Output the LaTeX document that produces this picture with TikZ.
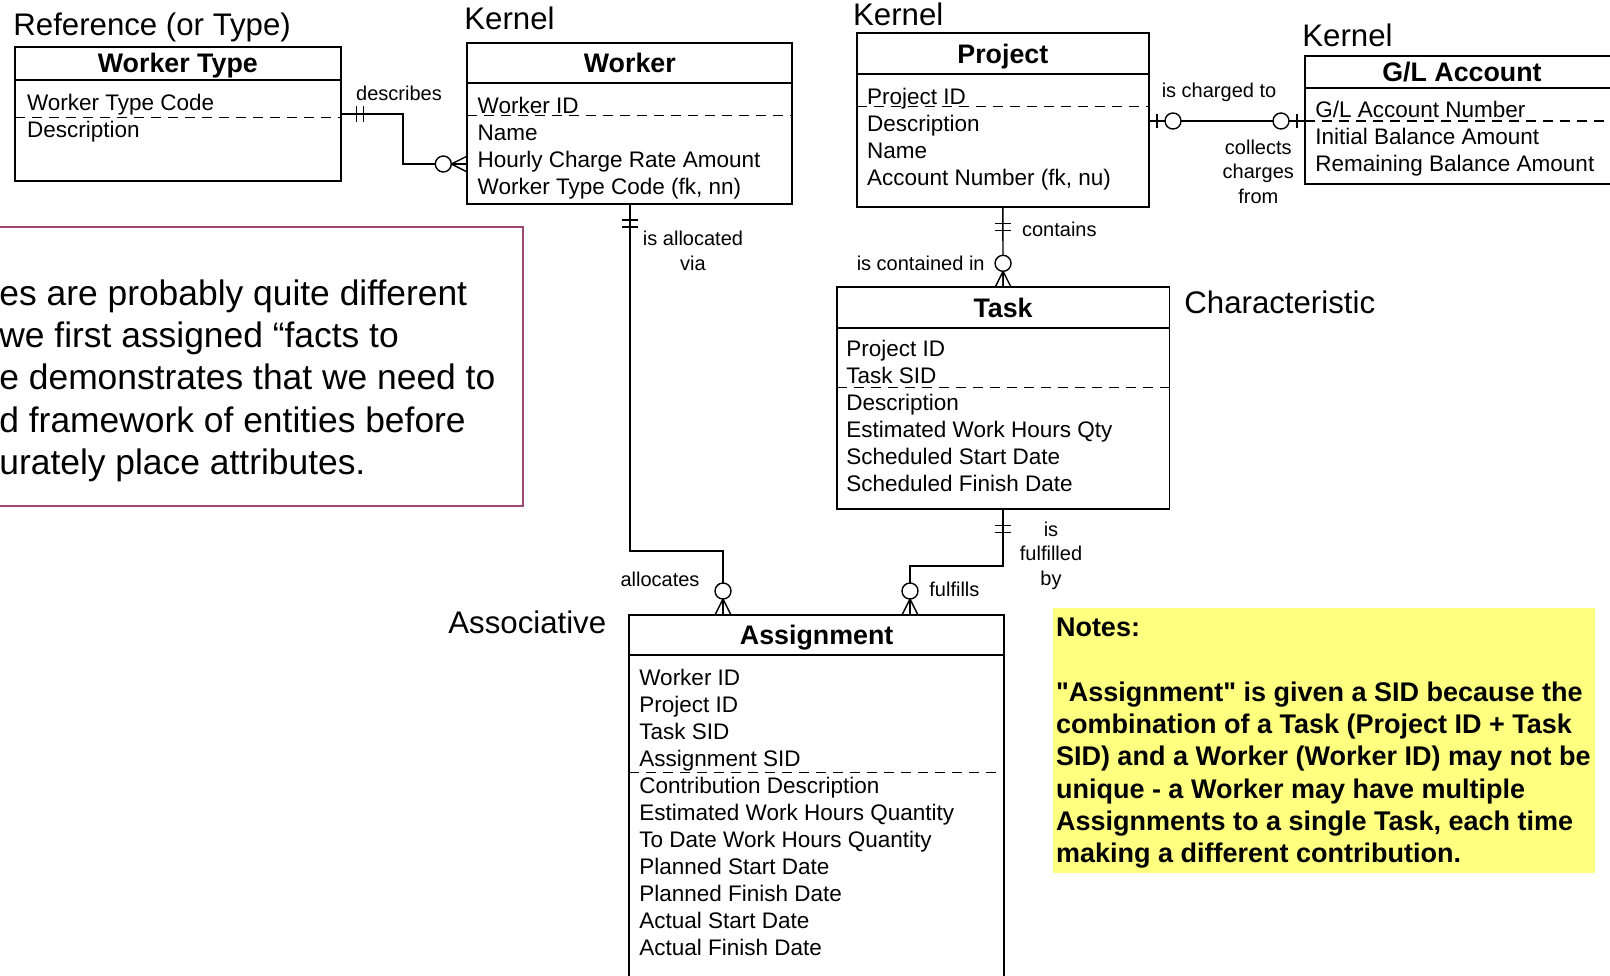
\documentclass[tikz,border=0pt]{standalone}
\usepackage{fontspec}
\setmainfont{Liberation Sans}
\definecolor{plum}{RGB}{158,72,118}
\definecolor{notefill}{RGB}{255,255,128}
\newcommand\strquote{\XeTeXglyph\XeTeXcharglyph"22\relax}

\tikzset{
  pics/crowzero/.style={code={
      \draw[conn] (-8,0) -- (0,-16) -- (8,0) (0,0) -- (0,-16);
      \draw[conn, fill=white] (0,-24) circle[radius=8];
  }},
  pics/onlyone/.style={code={
      \draw[conn] (-8,-16) -- (8,-16) (-8,-23) -- (8,-23);
  }},
  pics/zeroone/.style={code={
      \draw[conn] (-7,-8) -- (7,-8);
      \draw[conn, fill=white] (0,-24) circle[radius=8];
  }}
}

\begin{document}
\begin{tikzpicture}[
    x=0.5pt, y=-0.5pt,
    font=\fontsize{11.25}{13.5}\selectfont,
    entTitle/.style={draw, line width=0.85pt, anchor=north west, inner sep=0pt, outer sep=0pt,
                     text height=9.6pt, text depth=0pt, font=\bfseries\fontsize{13.4}{16}\selectfont},
    entBox/.style={draw, line width=0.85pt, anchor=north west, inner sep=0pt, outer sep=0pt},
    attrs/.style={anchor=base west, align=left, inner sep=0pt},
    kind/.style={anchor=base west, inner sep=0pt, font=\fontsize{15.6}{18}\selectfont},
    rel/.style={align=center, inner sep=0pt, font=\fontsize{10}{12.25}\selectfont},
    pkline/.style={line width=0.7pt, dash pattern=on 5pt off 3.5pt},
    conn/.style={line width=0.7pt}
  ]

  \useasboundingbox (0,0) rectangle (1610,975);
  \clip (0,0) rectangle (1610,975);

  % ---- entity kinds
  \node[kind] (kref)   at (13,35)    {Reference (or Type)};
  \node[kind] (kker1)  at (464,29.5) {Kernel};
  \node[kind] (kker2)  at (852.7,25) {Kernel};
  \node[kind] (kker3)  at (1302,46)  {Kernel};
  \node[kind] (kchar)  at (1184,313) {Characteristic};
  \node[kind] (kassoc) at (448,633)  {Associative};

  % ---- Worker Type (text placed by its last baseline)
  \node[entTitle, minimum width=162.85pt, minimum height=16.65pt] (wtype) at (15,46.7) {Worker Type};
  \node[entBox, minimum width=162.85pt, minimum height=50.5pt] (wtypebox) at (wtype.south west) {};
  \node[attrs] (wtypetxt) at (26.7,137.3) {Worker Type Code\\Description};
  \draw[pkline] (wtypebox.west |- 0,117.3) -- (wtypebox.east |- 0,117.3);

  % ---- Worker
  \node[entTitle, minimum width=162.5pt, minimum height=20pt] (worker) at (467.3,43.3) {Worker};
  \node[entBox, minimum width=162.5pt, minimum height=60.35pt] (workerbox) at (worker.south west) {};
  \node[attrs] (workertxt) at (477.3,194.3) {Worker ID\\Name\\Hourly Charge Rate Amount\\Worker Type Code (fk, nn)};
  \draw[pkline] (workerbox.west |- 0,115.7) -- (workerbox.east |- 0,115.7);

  % ---- Project
  \node[entTitle, minimum width=146.15pt, minimum height=20.35pt] (project) at (856.7,33.3) {Project};
  \node[entBox, minimum width=146.15pt, minimum height=66.65pt] (projectbox) at (project.south west) {};
  \node[attrs] (projecttxt) at (866.7,185) {Project ID\\Description\\Name\\Account Number (fk, nu)};
  \draw[pkline] (projectbox.west |- 0,106.7) -- (projectbox.east |- 0,106.7);

  % ---- G/L Account
  \node[entTitle, minimum width=157pt, minimum height=16.15pt] (glacct) at (1305,56) {G/L Account};
  \node[entBox, minimum width=157pt, minimum height=47.85pt] (glacctbox) at (glacct.south west) {};
  \node[attrs] (glaccttxt) at (1315,171) {G/L Account Number\\Initial Balance Amount\\Remaining Balance Amount};
  \draw[pkline] (glacctbox.west |- 0,121) -- (glacctbox.east |- 0,121);

  % ---- Task
  \node[entTitle, minimum width=166.35pt, minimum height=20.5pt] (task) at (836.7,287.3) {Task};
  \node[entBox, minimum width=166.35pt, minimum height=90.5pt] (taskbox) at (task.south west) {};
  \node[attrs] (tasktxt) at (846,491.7) {Project ID\\Task SID\\Description\\Estimated Work Hours Qty\\Scheduled Start Date\\Scheduled Finish Date};
  \draw[pkline] (taskbox.west |- 0,387.3) -- (taskbox.east |- 0,387.3);

  % ---- Assignment
  \node[entTitle, minimum width=187.65pt, minimum height=20pt] (assign) at (629,615) {Assignment};
  \node[entBox, minimum width=187.65pt, minimum height=180pt] (assignbox) at (assign.south west) {};
  \node[attrs] (assigntxt) at (639,955) {Worker ID\\Project ID\\Task SID\\Assignment SID\\Contribution Description\\Estimated Work Hours Quantity\\To Date Work Hours Quantity\\Planned Start Date\\Planned Finish Date\\Actual Start Date\\Actual Finish Date};
  \draw[pkline] (assignbox.west |- 0,772.7) -- (assignbox.east |- 0,772.7);

  % ---- relationships
  \draw[conn] (wtypebox.east |- 0,114) -| (403,164) -- (workerbox.west |- 0,164);
  \pic[rotate=-90] at (wtypebox.east |- 0,114) {onlyone};
  \pic[rotate=90] at (workerbox.west |- 0,164) {crowzero};
  \node[rel, anchor=base] (ldescr) at (399,100) {describes};

  \draw[conn] (workerbox.south) |- (723,551) -- (assign.north -| 723,0);
  \pic[rotate=180] at (workerbox.south) {onlyone};
  \pic at (assign.north -| 723,0) {crowzero};
  \node[rel, anchor=base] (lalloc1) at (693,270) {is allocated\\via};
  \node[rel, anchor=base] (lalloc2) at (660,586) {allocates};

  \draw[conn] (projectbox.south) -- (task.north);
  \pic[rotate=180] at (projectbox.south) {onlyone};
  \pic at (task.north) {crowzero};
  \node[rel, anchor=base west] (lcont1) at (1021.7,236.7) {contains};
  \node[rel, anchor=base east] (lcont2) at (985,270) {is contained in};

  \draw[conn] (taskbox.south) |- (910,566) -- (assign.north -| 910,0);
  \pic[rotate=180] at (taskbox.south) {onlyone};
  \pic at (assign.north -| 910,0) {crowzero};
  \node[rel, anchor=base] (lfulf1) at (1051,585) {is\\fulfilled\\by};
  \node[rel, anchor=base west] (lfulf2) at (929,596.7) {fulfills};

  \draw[conn] (projectbox.east |- 0,121) -- (glacctbox.west |- 0,121);
  \pic[rotate=-90] at (projectbox.east |- 0,121) {zeroone};
  \pic[rotate=90] at (glacctbox.west |- 0,121) {zeroone};
  \node[rel, anchor=base] (lcharge1) at (1219,97.7) {is charged to};
  \node[rel, anchor=base] (lcharge2) at (1258.3,203.3) {collects\\charges\\from};

  % ---- remark box (left)
  \node[draw=plum, line width=1pt, minimum width=266.85pt, minimum height=139.5pt, anchor=north east, inner sep=0pt] (remarkbox) at (523.7,226) {};
  \node[anchor=base west, align=left, inner sep=0pt, font=\fontsize{17.7}{21.15}\selectfont] (remarktxt) at (-1,474.4)
    {es are probably quite different\\we first assigned “facts to\\e demonstrates that we need to\\d framework of entities before\\urately place attributes.};

  % ---- notes (right)
  \node[fill=notefill, minimum width=271.1pt, minimum height=132.5pt, anchor=north west, inner sep=0pt] (notebox) at (1052.5,608) {};
  \node[anchor=base west, align=left, inner sep=0pt, font=\bfseries\fontsize{13.5}{16.15}\selectfont] (notetxt) at (1055.6,862.6)
    {Notes:\\[16.15pt]\strquote Assignment\strquote{} is given a SID because the\\combination of a Task (Project ID + Task\\SID) and a Worker (Worker ID) may not be\\unique - a Worker may have multiple\\Assignments to a single Task, each time\\making a different contribution.};

\end{tikzpicture}
\end{document}
